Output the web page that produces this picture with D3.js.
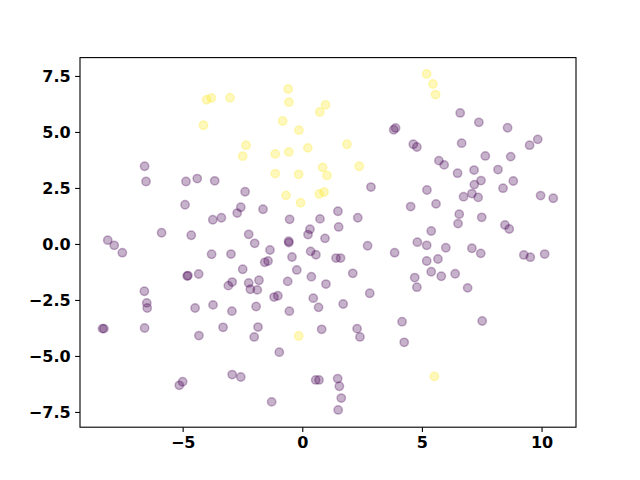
<!DOCTYPE html>
<html>
<head>
<meta charset="utf-8">
<script src="https://cdn.jsdelivr.net/npm/d3@7"></script>
<style>
  html, body { margin: 0; padding: 0; background: #fff; }
  svg { display: block; }
</style>
</head>
<body>
<svg id="chart" width="640" height="480"></svg>
<script>
// ---- Data ----
const class0X = [-6.59,-6.53,-4.86,-4.39,-3.66,3.82,3.90,4.64,4.79,5.71,5.93,6.60,7.38,8.58,6.66,9.50,9.84,7.65,8.71,6.49,7.18,8.18,7.47,8.82,7.19,8.39,6.74,7.09,7.35,9.96,10.49,6.56,6.51,7.50,8.47,8.65,7.09,7.46,9.26,9.53,10.13,6.39,6.91,
  2.87,5.21,5.59,4.53,1.49,2.32,1.52,0.95,5.39,4.81,5.20,6.00,2.73,3.86,1.41,1.60,5.20,5.67,5.39,5.81,2.11,4.70,4.79,0.99,2.82,1.71,
  -2.39,-2.57,-2.72,-1.64,-3.74,-3.38,-0.53,0.74,0.32,0.24,-2.24,-1.99,-0.57,-0.56,-1.35,-3.79,-2.98,-0.43,0.35,0.57,-1.43,-1.57,-2.49,-0.23,0.38,-2.93,-3.09,-2.24,-1.81,-2.17,-1.88,-0.61,-1.18,-1.02,0.46,-3.73,-1.93,0.68,
  -4.90,-5.88,-4.64,-8.13,-7.86,-7.52,-4.81,-4.78,-4.33,-6.60,-6.50,-6.48,-4.48,
  -8.35,-8.29,-6.59,-4.32,-5.14,-5.00,
  -2.94,-0.54,-3.31,-1.85,-2.01,0.81,-0.96,-2.93,-2.57,0.56,0.70,-1.28,
  2.29,2.41,4.17,4.26,1.48,1.55,1.63,1.50,7.52];
const class0Y = [3.47,2.79,2.79,2.92,2.82,5.10,5.18,4.45,4.33,3.72,3.53,5.85,5.43,5.19,4.50,4.41,4.67,3.93,3.90,3.16,3.30,3.32,2.83,2.81,2.65,2.49,2.11,2.25,2.08,2.16,2.04,1.33,0.91,1.19,0.85,0.67,-0.19,-0.42,-0.49,-0.59,-0.45,-1.33,-1.96,
  2.54,2.41,1.79,1.67,1.46,1.17,0.76,0.25,0.58,0.08,-0.06,-0.17,-0.08,-0.39,-0.63,-0.63,-0.76,-0.67,-1.24,-1.44,-1.31,-1.50,-1.93,-1.79,-2.20,-2.68,
  2.33,1.64,1.38,1.55,1.08,1.17,1.10,1.12,0.66,0.42,0.43,0.03,0.12,0.06,-0.27,-0.46,-0.45,-0.58,-0.33,-0.48,-0.76,-0.82,-1.13,-1.16,-1.46,-1.70,-1.86,-1.74,-1.62,-2.02,-2.05,-1.67,-2.37,-2.31,-2.42,-2.72,-2.79,-2.83,
  1.75,0.50,0.39,0.17,-0.06,-0.39,-1.43,-1.41,-1.34,-2.11,-2.63,-2.86,-2.86,
  -3.78,-3.78,-3.75,-4.09,-6.31,-6.15,
  -3.00,-3.00,-3.72,-3.71,-4.15,-3.81,-4.83,-5.83,-5.94,-6.07,-6.07,-7.05,
  -3.78,-4.15,-3.47,-4.39,-6.01,-6.35,-6.88,-7.41,-3.44];
const class1X = [-4.00,-3.80,-3.02,-4.13,-0.59,-0.56,0.97,0.73,-0.82,-0.14,-2.35,-2.49,-1.13,-0.56,0.23,0.85,1.03,-1.13,-0.15,-0.68,-0.07,0.71,0.91,5.20,5.46,5.57,1.87,2.38,-0.15,5.52];
const class1Y = [6.44,6.52,6.53,5.30,6.92,6.33,6.21,5.89,5.49,5.08,4.41,3.92,4.02,4.11,4.29,3.42,3.06,3.14,3.11,2.17,1.84,2.23,2.32,7.59,7.14,6.67,4.45,3.47,-4.11,-5.91];
const xTicks = [-5, 0, 5, 10];
const yTicks = [-7.5, -5.0, -2.5, 0.0, 2.5, 5.0, 7.5];
const colors = ["#440154", "#fde725"];

// ---- Layout ----
const mLeft = 80, mRight = 576, mTop = 57.6, mBottom = 427.2;
const svg = d3.select("#chart");

const x = d3.scaleLinear().domain([-9.29, 11.44]).range([mLeft, mRight]);
const y = d3.scaleLinear().domain([-8.18, 8.32]).range([mBottom, mTop]);

const points = [];
class0X.forEach((v, i) => points.push({x: v, y: class0Y[i], c: 0}));
class1X.forEach((v, i) => points.push({x: v, y: class1Y[i], c: 1}));

svg.append("g").selectAll("circle").data(points).join("circle")
  .attr("cx", d => x(d.x))
  .attr("cy", d => y(d.y))
  .attr("r", 4.17)
  .attr("fill", d => colors[d.c])
  .attr("fill-opacity", 0.3)
  .attr("stroke", d => colors[d.c])
  .attr("stroke-opacity", 0.3)
  .attr("stroke-width", 1.5);

// Frame
svg.append("rect")
  .attr("x", mLeft).attr("y", mTop)
  .attr("width", mRight - mLeft).attr("height", mBottom - mTop)
  .attr("fill", "none").attr("stroke", "#000").attr("stroke-width", 1.1);

const fmtY = d => d3.format(".1f")(d).replace("-", "\u2212");
const fmtX = d => String(d).replace("-", "\u2212");

const xAxis = svg.append("g").attr("transform", `translate(0,${mBottom})`)
  .call(d3.axisBottom(x).tickValues(xTicks).tickSize(4.9).tickPadding(4.5).tickFormat(fmtX));
const yAxis = svg.append("g").attr("transform", `translate(${mLeft},0)`)
  .call(d3.axisLeft(y).tickValues(yTicks).tickSize(4.9).tickPadding(4.5).tickFormat(fmtY));

[xAxis, yAxis].forEach(a => {
  a.select(".domain").remove();
  a.selectAll(".tick line").attr("stroke", "#000").attr("stroke-width", 1.1);
  a.selectAll(".tick text")
    .attr("fill", "#000")
    .style("font-family", "'DejaVu Sans', sans-serif")
    .style("font-weight", "bold")
    .style("font-size", "16px");
});
</script>
</body>
</html>
